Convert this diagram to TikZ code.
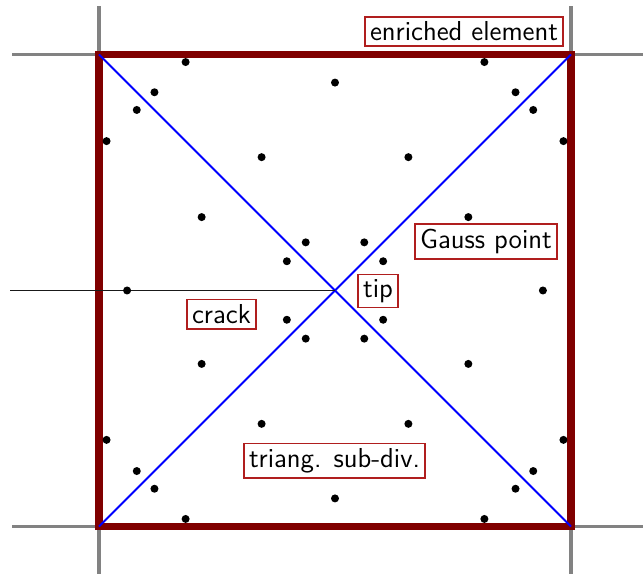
\documentclass[tikz,border=0pt]{standalone}
\usepackage{tikz}
\usetikzlibrary{positioning, calc}
\definecolor{elemred}{RGB}{128,0,0}
\definecolor{boxred}{RGB}{176,30,30}
\definecolor{meshgrey}{RGB}{130,130,130}

\begin{document}
\begin{tikzpicture}[x=118pt, y=118pt, font=\sffamily\fontsize{13.7}{16}\selectfont,
  mesh/.style={meshgrey, line width=1.6pt},
  elem/.style={elemred, line width=3.6pt, line join=miter},
  subdiv/.style={blue, line width=1pt},
  tag/.style={draw=boxred, line width=0.8pt, fill=white, inner sep=2.5pt}]
  \useasboundingbox (-1.4195,-1.2013) rectangle (1.3051,1.2309);

  % corners of the enriched element
  \coordinate (sw) at (-1,-1);
  \coordinate (se) at (1,-1);
  \coordinate (ne) at (1,1);
  \coordinate (nw) at (-1,1);
  \coordinate (tip) at (0,0);
  \coordinate (crackend) at (-1.377,0);

  % neighbouring mesh lines
  \draw[mesh] (nw) -- (-1.369,1)  (nw) -- (-1,1.205);
  \draw[mesh] (ne) -- (1.3051,1)  (ne) -- (1,1.205);
  \draw[mesh] (sw) -- (-1.369,-1) (sw) -- (-1,-1.2013);
  \draw[mesh] (se) -- (1.3051,-1) (se) -- (1,-1.2013);

  % element and its triangles
  \draw[elem] (sw) -- (se) -- (ne) -- (nw) -- cycle;
  \draw[subdiv] (sw) -- (ne);
  \draw[subdiv] (nw) -- (se);
  \draw[black!90, line width=0.8pt] (crackend) -- (tip);

  % Gauss points, same rule in all four triangles
  \foreach \r in {0,90,180,270}{
    \begin{scope}[rotate=\r]
      \foreach \p in {(-0.633,0.968),(0.633,0.968),(0,0.881),(-0.765,0.840),(0.765,0.840),
                      (-0.311,0.565),(0.311,0.565),(-0.124,0.204),(0.124,0.204)}
        \fill \p circle (2pt);
    \end{scope}
  }

  \node[tag] (elemlbl)  at (0.547,1.097)   {enriched element};
  \node[tag] (gausslbl) at (0.640,0.208)   {Gauss point};
  \node[tag] (tiplbl)   at (0.182,-0.002)  {tip};
  \node[tag] (cracklbl) at (-0.481,-0.100) {crack};
  \node[tag] (trilbl)   at (-0.002,-0.722) {triang. sub-div.};
\end{tikzpicture}
\end{document}
